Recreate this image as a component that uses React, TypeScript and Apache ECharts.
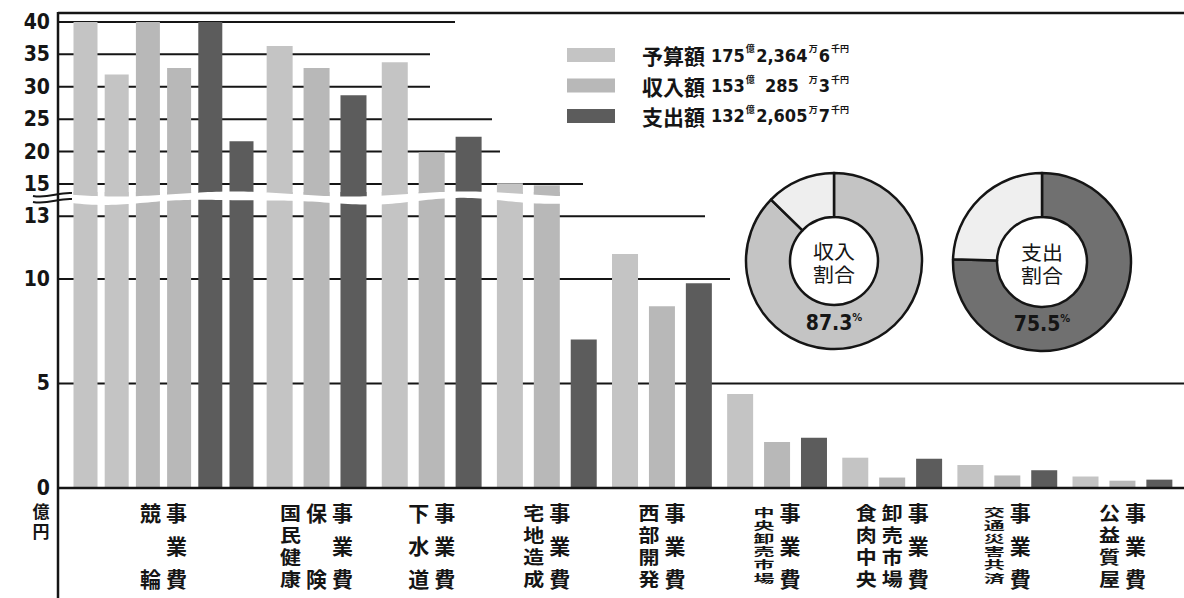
import React, { useEffect, useRef } from "react";
import * as echarts from "echarts";

// ---------------- data ----------------
const categories = [
  "競輪事業費",
  "国民健康保険事業費",
  "下水道事業費",
  "宅地造成事業費",
  "西部開発事業費",
  "中央卸売市場事業費",
  "食肉中央卸売市場事業費",
  "交通災害共済事業費",
  "公益質屋事業費",
];
// vertical label columns (left to right), each column read top to bottom
const labelColumns = [
  ["競輪", "事業費"],
  ["国民健康", "保険", "事業費"],
  ["下水道", "事業費"],
  ["宅地造成", "事業費"],
  ["西部開発", "事業費"],
  ["中央卸売市場", "事業費"],
  ["食肉中央", "卸売市場", "事業費"],
  ["交通災害共済", "事業費"],
  ["公益質屋", "事業費"],
];
const budget = [71.9, 36.3, 33.8, 15.1, 11.2, 4.5, 1.45, 1.1, 0.55];
const income = [72.9, 32.9, 19.9, 14.8, 8.7, 2.2, 0.5, 0.6, 0.35];
const expense = [61.6, 28.7, 22.3, 7.1, 9.8, 2.4, 1.4, 0.85, 0.4];
const seriesNames = ["予算額", "収入額", "支出額"];
const totalOku = ["175", "153", "132"];
const totalMan = ["2,364", "285", "2,605"];
const totalSen = ["6", "3", "7"];
const upperTicks = [15, 20, 25, 30, 35, 40];
const lowerTicks = [0, 5, 10, 13];
const wrapValue = 40; // bars taller than this continue in a second column
const incomeRatio = 87.3;
const expenseRatio = 75.5;
const ringTitles = ["収入\n割合", "支出\n割合"];
const unitLabel = "億\n円";

// ---------------- layout / style ----------------
const W = 1184;
const H = 598;
const AXIS_X = 58;
const UP = { top: 20, bottom: 198, min: 12.84, max: 40.3 };
const LO = { top: 192, bottom: 488, min: 0, max: 14.16 };
const GRID_A = { left: 58, width: 211 };
const GRID_B = { left: 259, width: 921 };
const upperLineEnd: Record<number, number> = { 15: 583, 20: 500, 25: 492, 30: 430, 35: 430, 40: 455 };
const lowerLineEnd: Record<number, number> = { 13: 705, 10: 730, 5: W };
const COLORS = ["#c4c4c4", "#b8b8b8", "#5c5c5c"];
const INK = "#151515";
const NUM_FONT = "'Liberation Sans Narrow', 'DejaVu Sans Condensed', 'Liberation Sans', sans-serif";
const JP_FONT = "'Noto Sans CJK JP', 'Noto Sans', sans-serif";
const RINGS = [
  { center: [834, 261], radius: [44, 88], colors: ["#c4c4c4", "#eeeeee"] },
  { center: [1042, 262], radius: [45, 89], colors: ["#707070", "#efefef"] },
];
const LABEL_TOP = 512;
const LABEL_BOTTOM = 578;
const LABEL_COL_STEP = 26;
const LABEL_FS = 21;

// stacked (multi-line) text whose lines sit `spacing` px apart; compressed vertically if needed
function stackedText(
  text: string,
  x: number,
  firstCenterY: number,
  spacing: number,
  fontSize: number,
  extra: Record<string, any>,
  z: number
) {
  const s = Math.min(1, spacing / (fontSize * 1.2));
  return {
    type: "text",
    z,
    silent: true,
    x,
    y: firstCenterY - spacing / 2,
    scaleY: s,
    style: {
      text,
      fontSize,
      lineHeight: spacing / s,
      align: "center",
      verticalAlign: "top",
      fill: INK,
      ...extra,
    },
  };
}

export default function App() {
  const ref = useRef<HTMLDivElement>(null);

  useEffect(() => {
    const el = ref.current;
    if (!el) return;
    const chart = echarts.init(el, undefined, { renderer: "svg" });

    const grids = [
      { left: GRID_A.left, width: GRID_A.width, top: UP.top, height: UP.bottom - UP.top },
      { left: GRID_A.left, width: GRID_A.width, top: LO.top, height: LO.bottom - LO.top },
      { left: GRID_B.left, width: GRID_B.width, top: UP.top, height: UP.bottom - UP.top },
      { left: GRID_B.left, width: GRID_B.width, top: LO.top, height: LO.bottom - LO.top },
    ];
    const xAxes = grids.map((_, i) => ({
      type: "category" as const,
      gridIndex: i,
      data: i < 2 ? [categories[0]] : categories.slice(1),
      show: false,
    }));
    const labelStyle = {
      color: INK,
      fontFamily: NUM_FONT,
      fontWeight: "bold" as const,
      fontSize: 21,
      margin: 8,
    };
    const yAxes = grids.map((_, i) => {
      const upper = i % 2 === 0;
      return {
        type: "value" as const,
        gridIndex: i,
        min: upper ? UP.min : LO.min,
        max: upper ? UP.max : LO.max,
        show: i < 2,
        axisLine: { show: false },
        axisTick: { show: false },
        splitLine: { show: false },
        axisLabel: {
          ...labelStyle,
          customValues: upper ? upperTicks : lowerTicks,
          showMinLabel: true,
          showMaxLabel: true,
        },
      };
    });

    const valueSets = [budget, income, expense];
    const series: any[] = [];
    // 競輪: values beyond wrapValue continue in an adjacent column
    valueSets.forEach((vals, k) => {
      [0, 1].forEach((part) => {
        const v = vals[0];
        const val = part === 0 ? Math.min(v, wrapValue) : Math.max(v - wrapValue, 0);
        [0, 1].forEach((g) => {
          series.push({
            type: "bar",
            name: seriesNames[k],
            xAxisIndex: g,
            yAxisIndex: g,
            data: [val],
            barWidth: 24,
            barGap: "30%",
            clip: true,
            silent: true,
            itemStyle: { color: COLORS[k] },
          });
        });
      });
    });
    valueSets.forEach((vals, k) => {
      [2, 3].forEach((g) => {
        series.push({
          type: "bar",
          name: seriesNames[k],
          xAxisIndex: g,
          yAxisIndex: g,
          data: vals.slice(1),
          barWidth: 26,
          barGap: "42%",
          clip: true,
          silent: true,
          itemStyle: { color: COLORS[k] },
        });
      });
    });
    const ratios = [incomeRatio, expenseRatio];
    RINGS.forEach((r, i) => {
      series.push({
        type: "pie",
        center: r.center,
        radius: r.radius,
        startAngle: 90,
        clockwise: true,
        silent: true,
        label: { show: false },
        labelLine: { show: false },
        itemStyle: { borderColor: INK, borderWidth: 2.5 },
        data: [
          { name: i === 0 ? "収入" : "支出", value: ratios[i], itemStyle: { color: r.colors[0] } },
          { name: "残", value: 100 - ratios[i], itemStyle: { color: r.colors[1] } },
        ],
      });
    });

    chart.setOption({
      animation: false,
      backgroundColor: "#ffffff",
      grid: grids,
      xAxis: xAxes,
      yAxis: yAxes,
      legend: {
        data: seriesNames,
        orient: "vertical",
        left: 562,
        top: 39,
        itemWidth: 48,
        itemHeight: 14,
        itemGap: 9,
        icon: "rect",
        selectedMode: false,
        formatter: (name: string) => {
          const i = seriesNames.indexOf(name);
          return `{n|${name}}{v|${totalOku[i]}}{u|億}{m|${totalMan[i]}}{u|万}{v|${totalSen[i]}}{u|千円}`;
        },
        textStyle: {
          rich: {
            n: { fontFamily: JP_FONT, fontSize: 21, fontWeight: "bold", color: INK, lineHeight: 22, padding: [0, 6, 0, 22] },
            v: { fontFamily: NUM_FONT, fontSize: 18, fontWeight: "bold", color: INK, lineHeight: 22 },
            m: { fontFamily: NUM_FONT, fontSize: 18, fontWeight: "bold", color: INK, lineHeight: 22, width: 52, align: "right" },
            u: { fontFamily: JP_FONT, fontSize: 9, fontWeight: "bold", color: INK, lineHeight: 14, verticalAlign: "top", padding: [0, 1, 0, 1] },
          },
        },
      },
      series,
    });

    // ---------- decorations derived from the axes ----------
    const yUp = (v: number) => chart.convertToPixel({ yAxisIndex: 0 }, v) as number;
    const yLo = (v: number) => chart.convertToPixel({ yAxisIndex: 1 }, v) as number;
    const catX = (i: number) =>
      i === 0
        ? (chart.convertToPixel({ xAxisIndex: 1 }, 0) as number)
        : (chart.convertToPixel({ xAxisIndex: 3 }, i - 1) as number);

    const g: any[] = [];
    const line = (x1: number, y1: number, x2: number, y2: number, w: number, z = 0) => ({
      type: "line",
      z,
      silent: true,
      shape: { x1, y1, x2, y2 },
      style: { stroke: INK, lineWidth: w },
    });
    // partial grid lines
    upperTicks.forEach((t) => {
      const y = yUp(t);
      g.push(line(AXIS_X, y, upperLineEnd[t], y, 2));
    });
    lowerTicks.forEach((t) => {
      if (t === 0) return;
      const y = yLo(t);
      g.push(line(AXIS_X, y, lowerLineEnd[t], y, 2));
    });
    // frame, axis, baseline
    g.push(line(AXIS_X, 13, W, 13, 2.5, 5));
    g.push(line(AXIS_X, 12, AXIS_X, H, 2.5, 5));
    g.push(line(AXIS_X, yLo(0), W, yLo(0), 2.5, 5));

    // wavy white break band
    const top: number[][] = [];
    const bot: number[][] = [];
    for (let x = AXIS_X + 2; x <= 640; x += 4) {
      const t = 194 + 2.5 * Math.sin((x - 59) / 37);
      top.push([x, t]);
      bot.push([x, t + 7.5 + 1.2 * Math.sin((x - 59) / 23)]);
    }
    g.push({
      type: "polygon",
      z: 60,
      silent: true,
      shape: { points: [...top, ...bot.reverse()] },
      style: { fill: "#ffffff", stroke: "none" },
    });
    // break marks on the axis
    [0, 6].forEach((d) => {
      g.push({
        type: "bezierCurve",
        z: 61,
        silent: true,
        shape: { x1: 33, y1: 196 + d, x2: 72, y2: 193 + d, cpx1: 48, cpy1: 199 + d, cpx2: 58, cpy2: 192 + d },
        style: { stroke: INK, lineWidth: 2, fill: "none" },
      });
    });
    // unit label
    g.push(stackedText(unitLabel, 41, 511, 20, 17, { fontFamily: JP_FONT, fontWeight: "bold" }, 20));
    // category labels (vertical columns); tall columns are compressed vertically
    labelColumns.forEach((cols, i) => {
      const cx = catX(i);
      cols.forEach((col, j) => {
        const chars = Array.from(col);
        const n = chars.length;
        const spacing = (LABEL_BOTTOM - LABEL_TOP) / (n - 1);
        const x = cx + (j - (cols.length - 1) / 2) * LABEL_COL_STEP;
        g.push(stackedText(chars.join("\n"), x, LABEL_TOP, spacing, LABEL_FS, { fontFamily: JP_FONT, fontWeight: "bold" }, 20));
      });
    });
    // ring captions
    RINGS.forEach((r, i) => {
      g.push(stackedText(ringTitles[i], r.center[0], r.center[1] - 11, 23.5, 21, { fontFamily: JP_FONT }, 80));
      const pct = i === 0 ? incomeRatio : expenseRatio;
      g.push({
        type: "text",
        z: 80,
        silent: true,
        x: r.center[0],
        y: r.center[1] + 62,
        style: {
          text: `{b|${pct.toFixed(1)}}{p|%}`,
          align: "center",
          verticalAlign: "middle",
          rich: {
            b: { fontFamily: NUM_FONT, fontWeight: "bold", fontSize: 21, fill: INK, lineHeight: 22 },
            p: { fontFamily: NUM_FONT, fontWeight: "bold", fontSize: 11, fill: INK, lineHeight: 12, verticalAlign: "top" },
          },
        },
      });
    });

    chart.setOption({ graphic: g });

    return () => {
      chart.dispose();
    };
  }, []);

  return (
    <div
      ref={ref}
      style={{ position: "fixed", left: 0, top: 0, width: W, height: H, background: "#fff" }}
    />
  );
}
